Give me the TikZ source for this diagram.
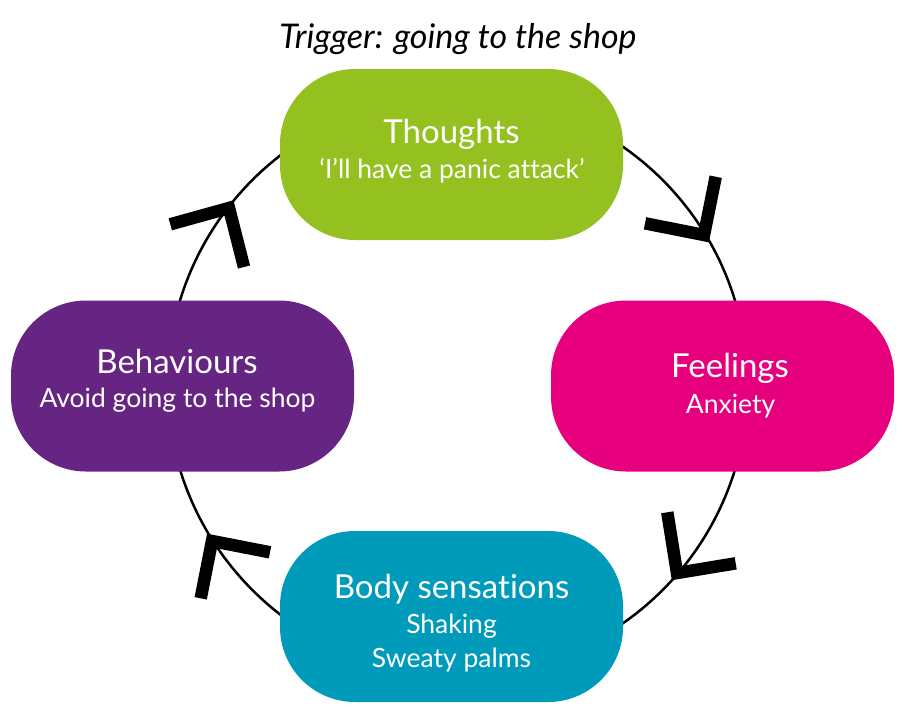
\documentclass[tikz,border=0pt]{standalone}
\usepackage{fontspec}
\setmainfont[Ligatures={NoCommon,NoRare}]{Lato}
\definecolor{cgreen}{RGB}{148,193,31}
\definecolor{cpink}{RGB}{230,0,126}
\definecolor{cpurple}{RGB}{102,36,131}
\definecolor{cteal}{RGB}{0,155,187}
\begin{document}
\begin{tikzpicture}[x=1pt,y=-1pt,
  pill/.style={rounded corners=75pt, minimum width=343pt, minimum height=171pt, inner sep=0pt, draw=none},
  ttl/.style={anchor=base, text=white, font=\fontsize{33}{38}\selectfont, inner sep=0pt},
  sub/.style={anchor=base, text=white, font=\fontsize{26.5}{31}\selectfont, inner sep=0pt},
  chev/.style={line width=12.5pt, line join=miter, line cap=butt, draw=black},
  ring/.style={line width=2.5pt, draw=black}]
\useasboundingbox (0,0) rectangle (904,716);
\coordinate (c) at (457.5,385);
\draw[ring] (c) circle[radius=290pt];
% chevrons
\draw[chev] (170.3,224.3) -- (229,208) -- (244,267);
\draw[chev] (645,223.3) -- (704,235) -- (715.7,176.7);
\draw[chev] (667.3,512.3) -- (677,573) -- (735.7,563.3);
\draw[chev] (200.7,598.3) -- (212,541) -- (270,552.3);
% boxes
\node[pill, fill=cgreen] (thoughts) at (451.5,154.5) {};
\node[pill, fill=cpink] (feelings) at (722.5,386) {};
\node[pill, fill=cpurple] (behav) at (182.5,386) {};
\node[pill, fill=cteal] (body) at (451.5,616.5) {};
% title
\node[anchor=base, inner sep=0pt, font=\fontsize{34}{40}\selectfont\itshape] (trig) at (458,48) {Trigger: going to the shop};
% texts
\node[ttl] (t1) at (451.5,143) {Thoughts};
\node[sub] (t2) at (452,178) {‘I’ll have a panic attack’};
\node[ttl] (f1) at (730,377) {Feelings};
\node[sub] (f2) at (730.5,413) {Anxiety};
\node[ttl] (b1) at (177,373) {Behaviours};
\node[sub] (b2) at (177.5,407) {Avoid going to the shop};
\node[ttl] (s1) at (451.5,598) {Body sensations};
\node[sub] (s2) at (451.5,633) {Shaking};
\node[sub] (s3) at (451.5,667) {Sweaty palms};
\end{tikzpicture}
\end{document}
